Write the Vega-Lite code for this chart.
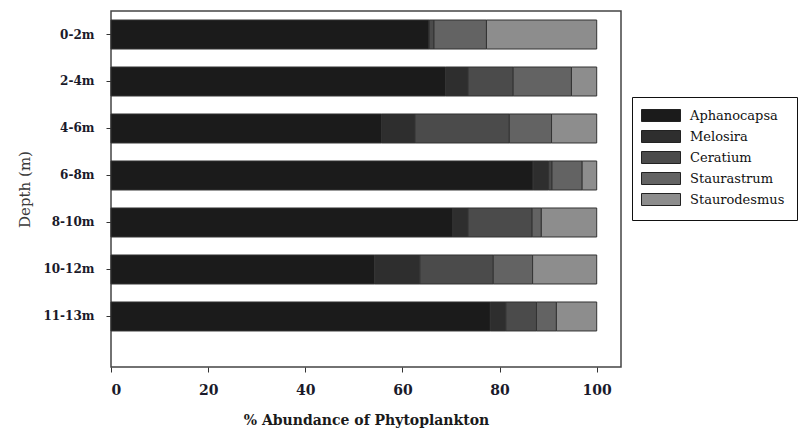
{
  "$schema": "https://vega.github.io/schema/vega-lite/v6.json",
  "width": 510,
  "height": 356,
  "autosize": "none",
  "padding": {"left": 111, "top": 11, "right": 179, "bottom": 66},
  "background": "white",
  "config": {
    "view": {"stroke": "#444444", "strokeWidth": 1.5},
    "font": "DejaVu Serif"
  },
  "data": {
    "values": [
      {"depth": "0-2m", "genus": "Aphanocapsa", "pct": 65.5},
      {"depth": "0-2m", "genus": "Melosira", "pct": 0},
      {"depth": "0-2m", "genus": "Ceratium", "pct": 1.0},
      {"depth": "0-2m", "genus": "Staurastrum", "pct": 10.8},
      {"depth": "0-2m", "genus": "Staurodesmus", "pct": 22.7},
      {"depth": "2-4m", "genus": "Aphanocapsa", "pct": 68.9},
      {"depth": "2-4m", "genus": "Melosira", "pct": 4.6},
      {"depth": "2-4m", "genus": "Ceratium", "pct": 9.3},
      {"depth": "2-4m", "genus": "Staurastrum", "pct": 12.0},
      {"depth": "2-4m", "genus": "Staurodesmus", "pct": 5.2},
      {"depth": "4-6m", "genus": "Aphanocapsa", "pct": 55.7},
      {"depth": "4-6m", "genus": "Melosira", "pct": 6.9},
      {"depth": "4-6m", "genus": "Ceratium", "pct": 19.4},
      {"depth": "4-6m", "genus": "Staurastrum", "pct": 8.7},
      {"depth": "4-6m", "genus": "Staurodesmus", "pct": 9.3},
      {"depth": "6-8m", "genus": "Aphanocapsa", "pct": 86.9},
      {"depth": "6-8m", "genus": "Melosira", "pct": 3.2},
      {"depth": "6-8m", "genus": "Ceratium", "pct": 0.7},
      {"depth": "6-8m", "genus": "Staurastrum", "pct": 6.2},
      {"depth": "6-8m", "genus": "Staurodesmus", "pct": 3.0},
      {"depth": "8-10m", "genus": "Aphanocapsa", "pct": 70.4},
      {"depth": "8-10m", "genus": "Melosira", "pct": 3.1},
      {"depth": "8-10m", "genus": "Ceratium", "pct": 13.2},
      {"depth": "8-10m", "genus": "Staurastrum", "pct": 1.9},
      {"depth": "8-10m", "genus": "Staurodesmus", "pct": 11.4},
      {"depth": "10-12m", "genus": "Aphanocapsa", "pct": 54.3},
      {"depth": "10-12m", "genus": "Melosira", "pct": 9.3},
      {"depth": "10-12m", "genus": "Ceratium", "pct": 15.1},
      {"depth": "10-12m", "genus": "Staurastrum", "pct": 8.1},
      {"depth": "10-12m", "genus": "Staurodesmus", "pct": 13.2},
      {"depth": "11-13m", "genus": "Aphanocapsa", "pct": 78.1},
      {"depth": "11-13m", "genus": "Melosira", "pct": 3.2},
      {"depth": "11-13m", "genus": "Ceratium", "pct": 6.3},
      {"depth": "11-13m", "genus": "Staurastrum", "pct": 4.1},
      {"depth": "11-13m", "genus": "Staurodesmus", "pct": 8.3}
    ]
  },
  "transform": [
    {"calculate": "indexof(['Aphanocapsa','Melosira','Ceratium','Staurastrum','Staurodesmus'], datum.genus)", "as": "genusOrder"}
  ],
  "mark": {"type": "bar", "stroke": "#333333", "strokeWidth": 1},
  "encoding": {
    "y": {
      "field": "depth",
      "type": "nominal",
      "sort": ["0-2m", "2-4m", "4-6m", "6-8m", "8-10m", "10-12m", "11-13m"],
      "scale": {"paddingInner": 0.383, "paddingOuter": 0.479, "align": 0.2},
      "axis": {
        "title": "Depth (m)",
        "titleFont": "DejaVu Serif",
        "titleFontSize": 15,
        "titleFontWeight": "normal",
        "titleColor": "#3a3a3a",
        "titlePadding": 10,
        "labelFont": "DejaVu Serif",
        "labelFontSize": 12,
        "labelFontWeight": "bold",
        "labelColor": "#1a1a2a",
        "labelPadding": 12,
        "tickSize": 5,
        "tickColor": "#333333",
        "domain": false
      }
    },
    "x": {
      "field": "pct",
      "type": "quantitative",
      "stack": "zero",
      "scale": {"domain": [0, 105], "nice": false, "zero": true},
      "axis": {
        "title": "% Abundance of Phytoplankton",
        "titleFont": "DejaVu Serif",
        "titleFontSize": 14,
        "titleFontWeight": "bold",
        "titleColor": "#1a1a1a",
        "titlePadding": 16,
        "values": [0, 20, 40, 60, 80, 100],
        "labelFont": "DejaVu Serif",
        "labelFontSize": 14,
        "labelFontWeight": "bold",
        "labelColor": "#1a1a2a",
        "labelPadding": 11,
        "tickSize": 5,
        "tickColor": "#333333",
        "grid": false,
        "domain": false
      }
    },
    "color": {
      "field": "genus",
      "type": "nominal",
      "sort": ["Aphanocapsa", "Melosira", "Ceratium", "Staurastrum", "Staurodesmus"],
      "scale": {
        "domain": ["Aphanocapsa", "Melosira", "Ceratium", "Staurastrum", "Staurodesmus"],
        "range": ["#1b1b1b", "#2e2e2e", "#4b4b4b", "#636363", "#8d8d8d"]
      },
      "legend": {
        "title": null,
        "orient": "none",
        "legendX": 521,
        "legendY": 86,
        "strokeColor": "#111111",
        "padding": 12,
        "symbolType": "M-1.5,-1H5V1H-1.5Z",
        "symbolSize": 144,
        "symbolStrokeColor": "#222222",
        "symbolStrokeWidth": 1,
        "symbolOpacity": 1,
        "labelFont": "DejaVu Serif",
        "labelFontSize": 13,
        "labelColor": "#111111",
        "labelOffset": 33,
        "rowPadding": 4,
        "fillColor": "white"
      }
    },
    "order": {"field": "genusOrder"}
  }
}
